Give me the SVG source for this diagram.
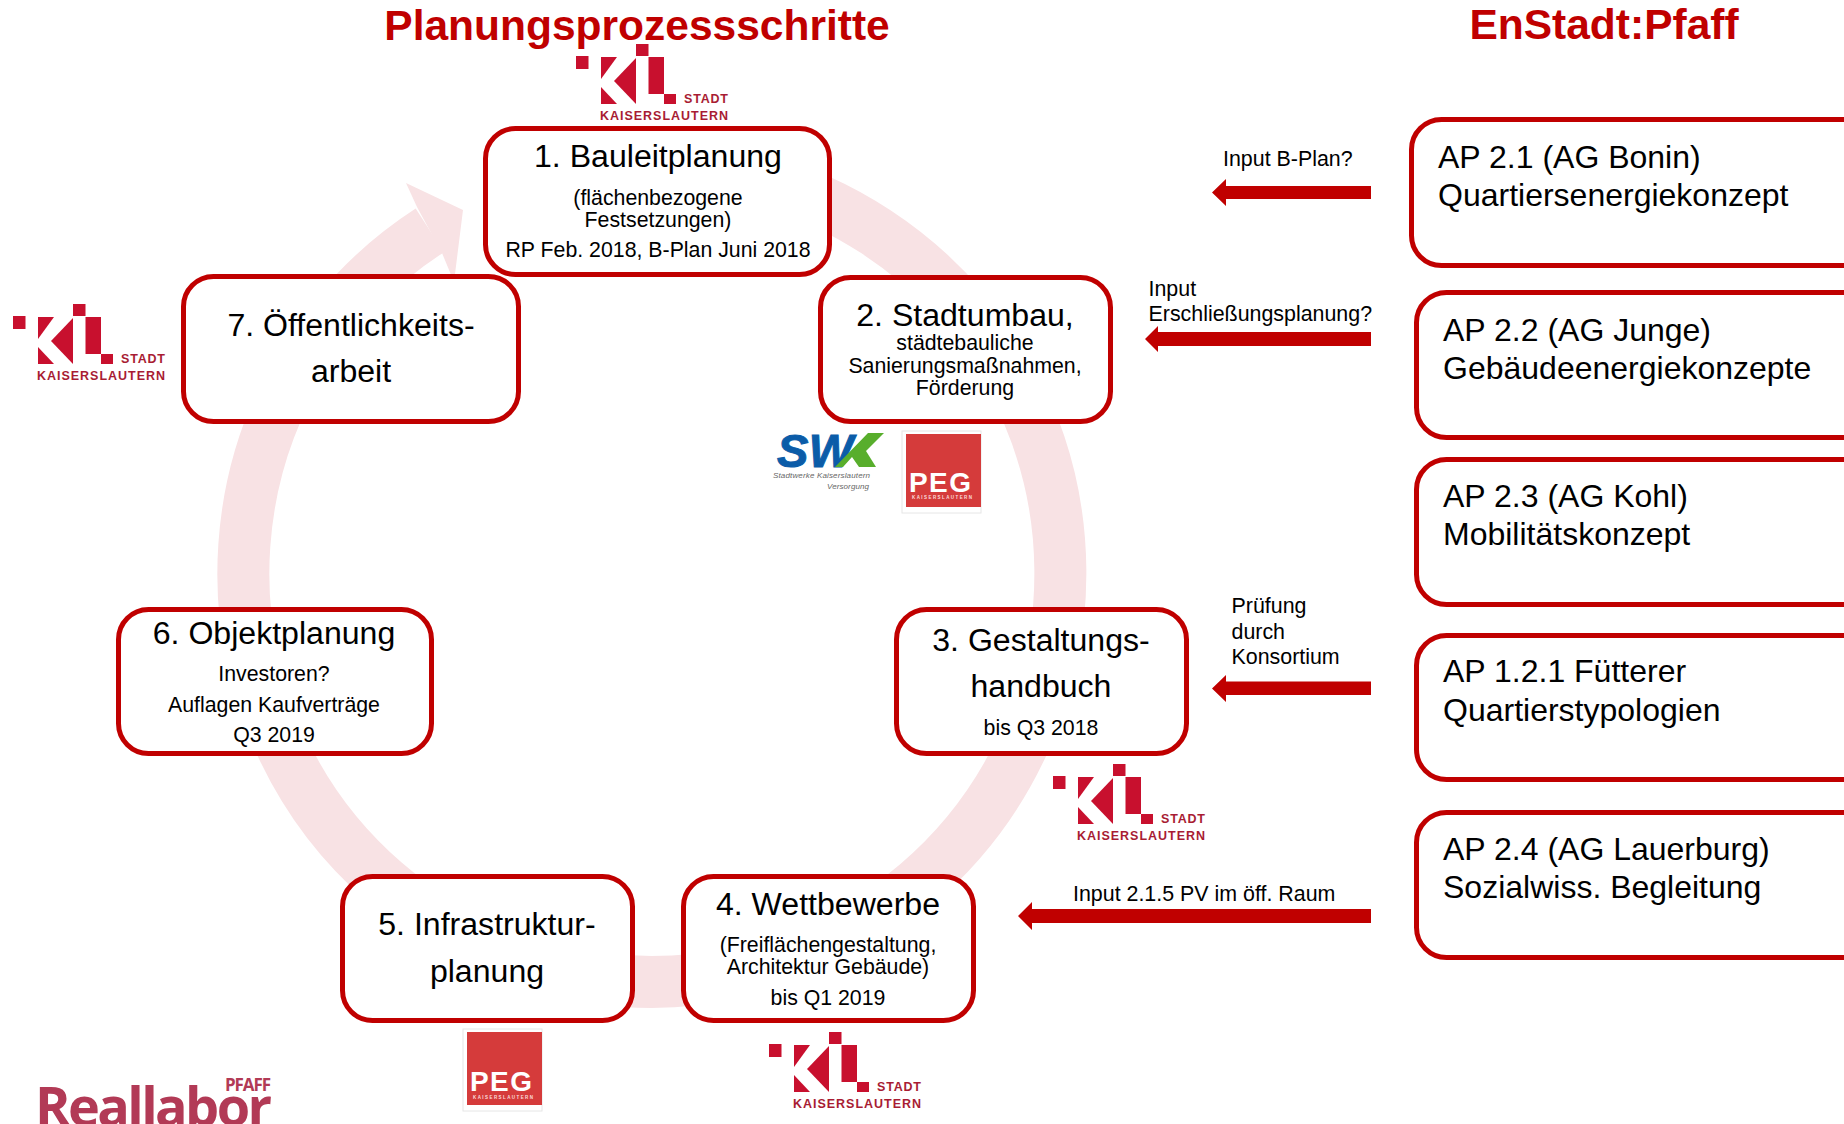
<svg xmlns="http://www.w3.org/2000/svg" xmlns:xlink="http://www.w3.org/1999/xlink" width="1844" height="1124" viewBox="0 0 1844 1124">
<style>
text{font-family:"Liberation Sans",Arial,sans-serif;fill:#000}
.box{fill:#fff;stroke:#C00000;stroke-width:5}
.t{font-size:32.100px;text-anchor:middle}
.s{font-size:21.300px;text-anchor:middle}
.r{font-size:32px}
.l{font-size:21.400px}
.h{font-size:42.500px;font-weight:bold;fill:#C00000;text-anchor:middle}
.a{fill:#C00000}
.kl1{font-size:12.500px;font-weight:bold;fill:#A81C33}
.pegt{font-size:28px;font-weight:bold;fill:#fff}
.pegs{font-size:4.500px;font-weight:bold;fill:#fbdcdc}
</style>
<defs>
<g id="kl" fill="#C8102E">
<rect x="0" y="12" width="12.500" height="13"/>
<polygon points="25,13 41,13 25,35"/>
<polygon points="25,43 41,60 25,60"/>
<polygon points="38,37 60,14 60,60"/>
<rect x="60" y="0" width="12.500" height="12"/>
<rect x="72.500" y="13" width="15.500" height="37"/>
<rect x="88" y="50" width="12" height="10"/>
</g>
<g id="pegbox">
<rect x="0" y="0" width="79" height="82" fill="#fff" stroke="#e6e6e6" stroke-width="1"/>
<rect x="4" y="3" width="75" height="73" fill="#D53B3B"/>
</g>
</defs>
<g id="ring">
<path d="M 710.500 169 A 408.500 408.500 0 1 1 429.800 230.400" fill="none" stroke="#F8E2E4" stroke-width="52"/>
<polygon points="463,210 406,183 417,207 442,253 454,282" fill="#F8E2E4"/>
</g>
<g id="connectors">
<polygon class="a" points="1212,192.500 1226,179 1226,186 1371,186 1371,199 1226,199 1226,206"/>
<polygon class="a" points="1145,339 1158,326 1158,332 1371,332 1371,346 1158,346 1158,352"/>
<polygon class="a" points="1212,688.500 1226,675 1226,681.500 1371,681.500 1371,695 1226,695 1226,702"/>
<polygon class="a" points="1018,916 1032,902 1032,909 1371,909 1371,923 1032,923 1032,930"/>
</g>
<g id="titles">
<text class="h" x="637" y="40">Planungsprozessschritte</text>
<text class="h" x="1604" y="39">EnStadt:Pfaff</text>
</g>
<g id="labels">
<text class="l" x="1223" y="166">Input B-Plan?</text>
<text class="l" x="1148.500" y="296">Input</text>
<text class="l" x="1148.500" y="321">Erschließungsplanung?</text>
<text class="l" x="1231.500" y="613">Prüfung</text>
<text class="l" x="1231.500" y="639">durch</text>
<text class="l" x="1231.500" y="664">Konsortium</text>
<text class="l" x="1073" y="901">Input 2.1.5 PV im öff. Raum</text>
</g>
<g id="node1">
<rect class="box" x="485.500" y="128.500" width="344" height="146" rx="30"/>
<text class="t" x="658" y="167">1. Bauleitplanung</text>
<text class="s" x="658" y="205">(flächenbezogene</text>
<text class="s" x="658" y="227">Festsetzungen)</text>
<text class="s" x="658" y="257">RP Feb. 2018, B-Plan Juni 2018</text>
</g>
<g id="node2">
<rect class="box" x="820.500" y="277.500" width="290" height="144" rx="30"/>
<text class="t" x="965" y="326">2. Stadtumbau,</text>
<text class="s" x="965" y="350">städtebauliche</text>
<text class="s" x="965" y="373">Sanierungsmaßnahmen,</text>
<text class="s" x="965" y="395">Förderung</text>
</g>
<g id="node3">
<rect class="box" x="896.500" y="609.500" width="290" height="144" rx="30"/>
<text class="t" x="1041" y="651">3. Gestaltungs-</text>
<text class="t" x="1041" y="697">handbuch</text>
<text class="s" x="1041" y="735">bis Q3 2018</text>
</g>
<g id="node4">
<rect class="box" x="683.500" y="876.500" width="290" height="144" rx="30"/>
<text class="t" x="828" y="915">4. Wettbewerbe</text>
<text class="s" x="828" y="952">(Freiflächengestaltung,</text>
<text class="s" x="828" y="974">Architektur Gebäude)</text>
<text class="s" x="828" y="1005">bis Q1 2019</text>
</g>
<g id="node5">
<rect class="box" x="342.500" y="876.500" width="290" height="144" rx="30"/>
<text class="t" x="487" y="935">5. Infrastruktur-</text>
<text class="t" x="487" y="982">planung</text>
</g>
<g id="node6">
<rect class="box" x="118.500" y="609.500" width="313" height="144" rx="30"/>
<text class="t" x="274" y="644">6. Objektplanung</text>
<text class="s" x="274" y="681">Investoren?</text>
<text class="s" x="274" y="712">Auflagen Kaufverträge</text>
<text class="s" x="274" y="742">Q3 2019</text>
</g>
<g id="node7">
<rect class="box" x="183.500" y="276.500" width="335" height="145" rx="30"/>
<text class="t" x="351" y="336">7. Öffentlichkeits-</text>
<text class="t" x="351" y="382">arbeit</text>
</g>
<g id="ap21">
<rect class="box" x="1411.500" y="119.500" width="470" height="146" rx="30"/>
<text class="r" x="1438" y="168">AP 2.1 (AG Bonin)</text>
<text class="r" x="1438" y="206">Quartiersenergiekonzept</text>
</g>
<g id="ap22">
<rect class="box" x="1416.500" y="292.500" width="470" height="145" rx="30"/>
<text class="r" x="1443" y="341">AP 2.2 (AG Junge)</text>
<text class="r" x="1443" y="379">Gebäudeenergiekonzepte</text>
</g>
<g id="ap23">
<rect class="box" x="1416.500" y="459.500" width="470" height="145" rx="30"/>
<text class="r" x="1443" y="507">AP 2.3 (AG Kohl)</text>
<text class="r" x="1443" y="545">Mobilitätskonzept</text>
</g>
<g id="ap121">
<rect class="box" x="1416.500" y="635.500" width="470" height="144" rx="30"/>
<text class="r" x="1443" y="682">AP 1.2.1 Fütterer</text>
<text class="r" x="1443" y="721">Quartierstypologien</text>
</g>
<g id="ap24">
<rect class="box" x="1416.500" y="812.500" width="470" height="145" rx="30"/>
<text class="r" x="1443" y="860">AP 2.4 (AG Lauerburg)</text>
<text class="r" x="1443" y="898">Sozialwiss. Begleitung</text>
</g>
<g id="logo-kl-1" transform="translate(576 44)">
<use href="#kl"/>
<text class="kl1" x="108" y="59" textLength="44">STADT</text>
<text class="kl1" x="24" y="76" textLength="128">KAISERSLAUTERN</text>
</g>
<g id="logo-kl-7" transform="translate(13 304)">
<use href="#kl"/>
<text class="kl1" x="108" y="59" textLength="44">STADT</text>
<text class="kl1" x="24" y="76" textLength="128">KAISERSLAUTERN</text>
</g>
<g id="logo-kl-3" transform="translate(1053 764)">
<use href="#kl"/>
<text class="kl1" x="108" y="59" textLength="44">STADT</text>
<text class="kl1" x="24" y="76" textLength="128">KAISERSLAUTERN</text>
</g>
<g id="logo-kl-4" transform="translate(769 1032)">
<use href="#kl"/>
<text class="kl1" x="108" y="59" textLength="44">STADT</text>
<text class="kl1" x="24" y="76" textLength="128">KAISERSLAUTERN</text>
</g>
<g id="logo-swk">
<text x="777" y="467" font-size="47" font-weight="bold" font-style="italic" style="fill:#0B5CA8;stroke:#0B5CA8;stroke-width:1" textLength="76">SW</text>
<polygon points="868,433 884,433 866,451 876,467 859,467 852,457 843,467 835,467" fill="#58AE2C"/>
<text x="773" y="478" font-size="8" font-style="italic" style="fill:#666" textLength="97">Stadtwerke Kaiserslautern</text>
<text x="827" y="489" font-size="8" font-style="italic" style="fill:#666" textLength="42">Versorgung</text>
</g>
<g id="logo-peg-2" transform="translate(902 431)">
<use href="#pegbox"/>
<text class="pegt" x="7" y="61" textLength="62">PEG</text>
<text class="pegs" x="10" y="68" textLength="60">KAISERSLAUTERN</text>
</g>
<g id="logo-peg-5" transform="translate(463 1029)">
<use href="#pegbox"/>
<text class="pegt" x="7" y="62" textLength="62">PEG</text>
<text class="pegs" x="10" y="70" textLength="60">KAISERSLAUTERN</text>
</g>
<g id="logo-reallabor">
<text x="35" y="1126" font-size="54" font-weight="700" style="font-family:'Open Sans',sans-serif;fill:#B23A56" textLength="237">Reallabor</text>
<text x="225" y="1091" font-size="17" font-weight="700" style="font-family:'Open Sans',sans-serif;fill:#B23A56" textLength="46">PFAFF</text>
</g>
</svg>
